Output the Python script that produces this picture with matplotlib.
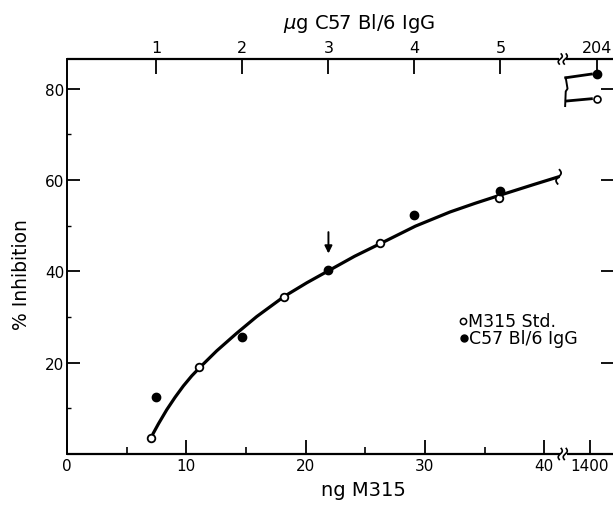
import matplotlib
matplotlib.use("Agg")
import matplotlib.pyplot as plt
import matplotlib.transforms as mtransforms
import numpy as np

plt.rcParams['font.family'] = ['DejaVu Sans']

# ---------------- data ----------------
std_ng = [7.0, 11.1, 18.2, 26.2, 36.2]            # M315 Std. (ng M315)
std_inh = [3.6, 19.0, 34.4, 46.1, 56.0]
igg_ug = [1, 2, 3, 4, 5]                            # C57 Bl/6 IgG (ug)
igg_inh = [12.4, 25.7, 40.3, 52.3, 57.6]
std_high_label, std_high_inh = "1400", 77.8         # beyond the axis break
igg_high_label, igg_high_inh = "204", 83.2
curve_ng = [7.2, 7.66, 8.36, 9.05, 9.75, 10.45, 11.15, 12.55, 14.2, 15.9, 18.2, 20.1,
            22.1, 24.1, 26.2, 29.2, 32.1, 34.2, 36.2, 39.1, 41.2]
curve_inh = [4.4, 6.6, 9.7, 12.4, 14.9, 17.1, 19.0, 22.6, 26.4, 30.1, 34.5, 37.5,
             40.4, 43.3, 46.0, 49.9, 53.0, 54.9, 56.6, 59.0, 60.7]
arrow_ug = 3
bottom_ticks = [0, 10, 20, 30, 40]
bottom_minor = [5, 15, 25, 35]
top_ticks = [1, 2, 3, 4, 5]
y_ticks = [20, 40, 60, 80]
y_minor = [10, 30, 50, 70]

# ---------------- layout helpers ----------------
XMAX, YMAX = 45.8, 86.5
BREAK_X = 41.55          # position of axis break
POS_BOTTOM_HIGH = 43.8   # where "1400" sits
POS_TOP_HIGH = 44.4      # where "204" sits


def ug2pos(u):
    return 0.28 + 7.21 * np.asarray(u, dtype=float)


fig = plt.figure(figsize=(6.15, 5.06), dpi=100)
ax = fig.add_axes([0.109, 0.1008, 0.8885, 0.7806])
ax.set_xlim(0, XMAX)
ax.set_ylim(0, YMAX)
for s in ['top', 'bottom', 'right']:
    ax.spines[s].set_visible(False)
ax.spines['left'].set_linewidth(1.4)

lw_axis = 1.6
# bottom axis line with break
ax.plot([0, BREAK_X - 0.25], [0, 0], color='k', lw=lw_axis, clip_on=False, solid_capstyle='butt')
ax.plot([BREAK_X + 0.35, XMAX], [0, 0], color='k', lw=lw_axis, clip_on=False, solid_capstyle='butt')
# top axis line with break
ax.plot([0, BREAK_X - 0.3], [YMAX, YMAX], color='k', lw=lw_axis, clip_on=False, solid_capstyle='butt')
ax.plot([BREAK_X + 0.3, XMAX], [YMAX, YMAX], color='k', lw=lw_axis, clip_on=False, solid_capstyle='butt')


def squiggle(xd, yd, h=0.06, w=0.02, dx=0.0, lw=1.2):
    tr = fig.dpi_scale_trans + mtransforms.ScaledTranslation(xd, yd, ax.transData)
    t = np.linspace(-1, 1, 30)
    xs = dx + w * np.sin(np.pi * t) + 0.01 * t
    ys = h * t
    ax.plot(xs, ys, color='k', lw=lw, transform=tr, clip_on=False)


for dx in (-0.025, 0.025):
    squiggle(BREAK_X, 0, dx=dx, h=0.055, w=0.015)
    squiggle(BREAK_X, YMAX, dx=dx, h=0.05, w=0.015)

# ticks
ax.set_xticks(bottom_ticks + [POS_BOTTOM_HIGH])
ax.set_xticklabels([str(t) for t in bottom_ticks] + [std_high_label])
ax.set_xticks(bottom_minor, minor=True)
ax.tick_params(axis='x', which='major', direction='in', length=10, width=1.3,
               labelsize=11, pad=3)
ax.tick_params(axis='x', which='minor', direction='in', length=5, width=1.2)
ax.set_yticks(y_ticks)
ax.set_yticks(y_minor, minor=True)
ax.tick_params(axis='y', which='major', direction='in', length=9, width=1.3,
               labelsize=11, pad=2, right=True)
ax.tick_params(axis='y', which='minor', direction='in', length=3, width=1.0, right=False)

ax2 = ax.twiny()
ax2.set_xlim(ax.get_xlim())
for s in ax2.spines.values():
    s.set_visible(False)
ax2.set_xticks(list(ug2pos(top_ticks)) + [POS_TOP_HIGH])
ax2.set_xticklabels([str(t) for t in top_ticks] + [igg_high_label])
ax2.tick_params(axis='x', direction='in', length=11, width=1.3, labelsize=11.5, pad=3)

# labels
ax.set_xlabel('ng M315', fontsize=14)
ax.xaxis.set_label_coords(0.542, -0.066)
ax.set_ylabel('% Inhibition', fontsize=13.5)
ax.yaxis.set_label_coords(-0.066, 0.456)
fig.text(0.584, 0.953, r'$\mu$g C57 Bl/6 IgG', fontsize=14, ha='center', va='center')

# curve
ax.plot(curve_ng, curve_inh, color='k', lw=2.3, zorder=2, solid_capstyle='round',
        solid_joinstyle='round')
squiggle(curve_ng[-1], curve_inh[-1], h=0.07, w=0.02, lw=1.3)

# points
ax.plot(std_ng, std_inh, 'o', ms=5.5, mfc='white', mec='k', mew=1.3, zorder=4, ls='none')
ax.plot(ug2pos(igg_ug), igg_inh, 'o', ms=6, mfc='k', mec='k', zorder=4, ls='none')
ax.plot([POS_TOP_HIGH], [igg_high_inh], 'o', ms=6, mfc='k', mec='k', zorder=4, clip_on=False)
ax.plot([POS_TOP_HIGH], [std_high_inh], 'o', ms=5, mfc='white', mec='k', mew=1.2, zorder=4, clip_on=False)

# brace connecting the two high-dose points
ax.plot([POS_TOP_HIGH - 0.45, 41.8], [igg_high_inh, igg_high_inh - 0.8], color='k', lw=2.0, clip_on=False)
ax.plot([POS_TOP_HIGH - 0.45, 41.85], [std_high_inh, std_high_inh - 0.5], color='k', lw=2.0, clip_on=False)
ax.plot([41.8, 41.95, 41.8, 41.75], [igg_high_inh - 0.8, 80.0, 79.4, std_high_inh - 1.6],
        color='k', lw=1.4, clip_on=False)

# arrow marking 3 ug
ax.annotate('', xy=(ug2pos(arrow_ug), 43.3), xytext=(ug2pos(arrow_ug), 49.2),
            arrowprops=dict(arrowstyle='-|>', lw=1.4, color='k', mutation_scale=11))

# legend
ax.plot([33.2], [29.2], 'o', ms=4.5, mfc='white', mec='k', mew=1.1)
ax.text(33.6, 29.2, 'M315 Std.', fontsize=12.5, va='center', ha='left')
ax.plot([33.3], [25.4], 'o', ms=5, mfc='k', mec='k')
ax.text(33.7, 25.4, 'C57 Bl/6 IgG', fontsize=12.5, va='center', ha='left')

fig.savefig('out.png', dpi=100)
